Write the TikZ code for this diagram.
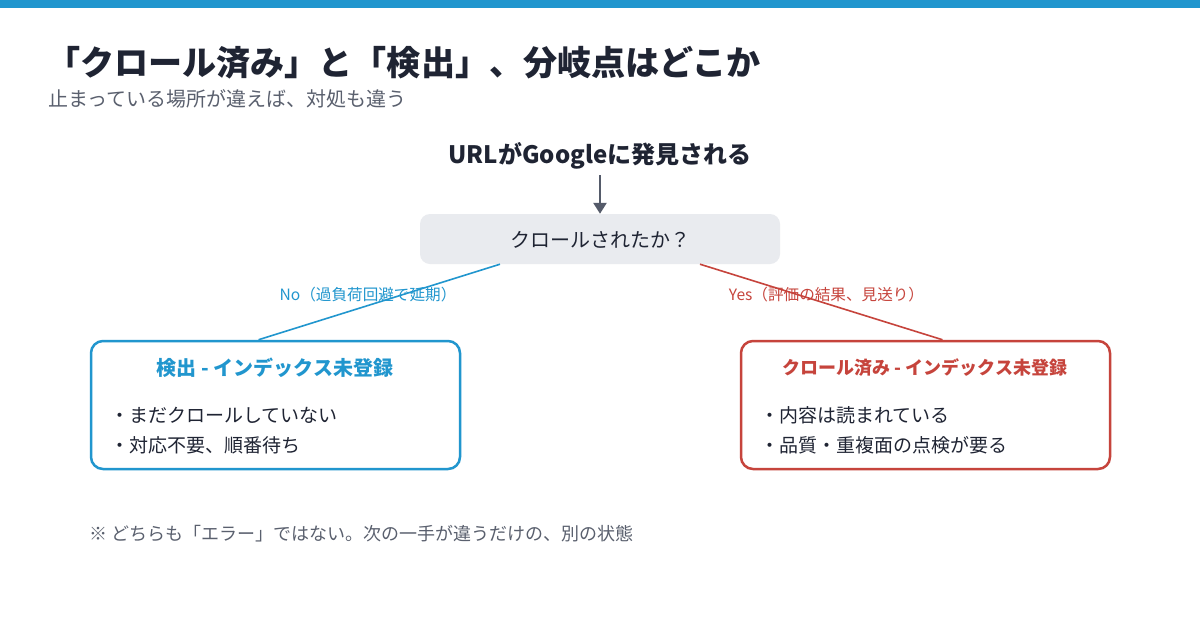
\documentclass[tikz,border=0pt]{standalone}
\usepackage{fontspec}
\setmainfont{Noto Sans CJK JP}
\usetikzlibrary{arrows.meta}
\definecolor{cblue}{RGB}{33,150,206}
\definecolor{cred}{RGB}{198,68,60}
\definecolor{cdark}{RGB}{31,36,51}
\definecolor{cgray}{RGB}{90,96,110}
\definecolor{carrow}{RGB}{85,91,106}
\definecolor{cbox}{RGB}{233,235,239}
\tikzset{
  fs/.style={font=\fontsize{#1}{#1}\selectfont},
  txt/.style={inner sep=0pt, outer sep=0pt},
  branchbox/.style={draw=#1, line width=2.5pt, rounded corners=12pt, fill=white,
    minimum width=369pt, minimum height=128pt, inner sep=0pt},
  conn/.style={draw=#1, line width=1.6pt},
}
\begin{document}
\begin{tikzpicture}[x=1pt,y=-1pt]
\useasboundingbox (0,0) rectangle (1200,630);
\fill[white] (0,0) rectangle (1200,630);
\fill[cblue] (0,0) rectangle (1200,8);
% title
\node[txt, anchor=base west, fs=34.1, text=cdark] (title) at (46,75) {\bfseries 「クロール済み」と「検出」、分岐点はどこか};
\node[txt, anchor=base west, fs=20, text=cgray] (sub) at (48,106) {止まっている場所が違えば、対処も違う};
% top
\node[txt, anchor=base, fs=24, text=cdark] (url) at (600,163) {\bfseries URLがGoogleに発見される};
\node[fill=cbox, rounded corners=10pt, minimum width=360pt, minimum height=50pt, inner sep=0pt] (d) at (600,239) {};
\node[txt, fs=20, text=cdark] (dt) at (600,240) {クロールされたか？};
\coordinate (atop) at (600,175);
\draw[carrow, line width=2.5pt, -{Triangle[width=13pt,length=11pt]}] (atop) -- (d.north);
% boxes
\node[branchbox=cblue] (L) at (275.5,405) {};
\node[branchbox=cred] (R) at (925.5,405) {};
\draw[conn=cblue] ([xshift=-100pt]d.south) -- ([xshift=-17pt]L.north);
\draw[conn=cred] ([xshift=100pt]d.south) -- ([xshift=17pt]R.north);
\node[txt, fs=15.6, text=cblue] (nolab) at (368,295) {No（過負荷回避で延期）};
\node[txt, fs=15.6, text=cred] (yeslab) at (826.5,295) {Yes（評価の結果、見送り）};
% left box text
\node[txt, fs=20, text=cblue] (Lt) at (275,368) {\bfseries 検出 - インデックス未登録};
\node[txt, anchor=west, fs=19, text=cdark] (L1) at (110,415) {・まだクロールしていない};
\node[txt, anchor=west, fs=19, text=cdark] (L2) at (110,445) {・対応不要、順番待ち};
% right box text
\node[txt, fs=18, text=cred] (Rt) at (925,368) {\bfseries クロール済み - インデックス未登録};
\node[txt, anchor=west, fs=19, text=cdark] (R1) at (760,415) {・内容は読まれている};
\node[txt, anchor=west, fs=19, text=cdark] (R2) at (760,445) {・品質・重複面の点検が要る};
% footnote
\node[txt, anchor=west, fs=18, text=cgray] (foot) at (89,534) {※ どちらも「エラー」ではない。次の一手が違うだけの、別の状態};
\end{tikzpicture}
\end{document}
